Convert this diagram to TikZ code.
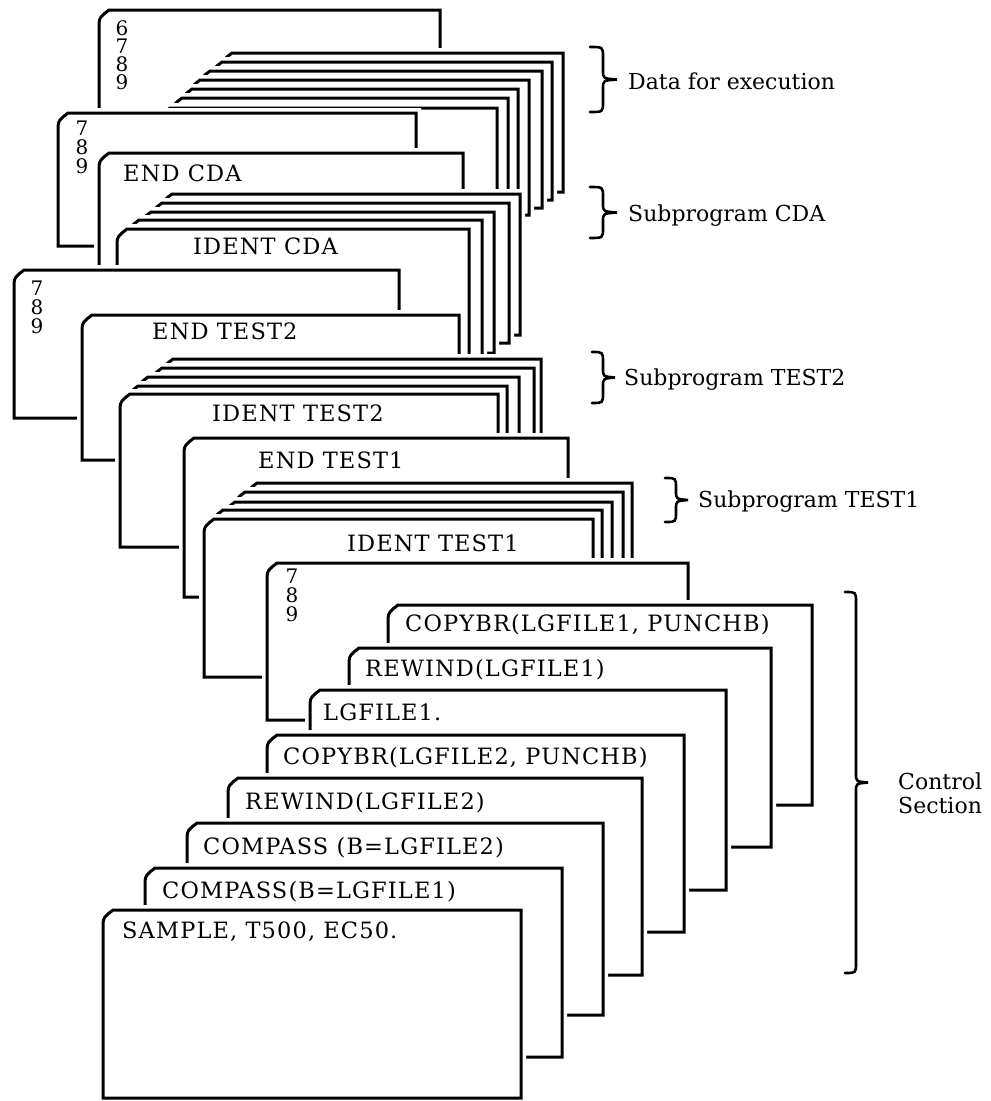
\documentclass[tikz,border=0pt]{standalone}
\usepackage{fontspec}
\newfontfamily\cardfont{DejaVu Serif}[LetterSpace=5]
\newfontfamily\labelfont{DejaVu Serif}
\newcommand\deckcard[4]{% xl, yt, xr, yb
  \path[card] (#1,#2+16) -- (#1,#2+13) .. controls (#1+1,#2+7) .. (#1+10,#2)
    -- (#3,#2) -- (#3,#4) -- (#1,#4) -- cycle;}
\newcommand\curly[6]{% name, x0 curl end, x1 stem, x2 tip, ytop, ybottom
  \pgfmathsetmacro\ymid{(#5+#6)/2}
  \draw[bracestyle] (#2,#5) .. controls (#3,#5) .. (#3,#5+10) -- (#3,\ymid-9)
    .. controls (#3,\ymid-1) .. (#4,\ymid) .. controls (#3,\ymid+1) .. (#3,\ymid+9)
    -- (#3,#6-10) .. controls (#3,#6) .. (#2,#6);
  \coordinate (#1) at (#4,\ymid);}
\newcommand\digitstack[5]{% name, x, first baseline, spacing, digits
  \foreach \dg [count=\k from 0] in {#5} {\node[digit] (#1-\k) at (#2,#3+#4*\k) {\dg};}}
\begin{document}
\begin{tikzpicture}[x=1pt,y=-1pt,
  card/.style={draw=black, line width=3pt, line join=miter,
    preaction={fill=white, draw=white, line width=10pt}},
  cardtext/.style={font=\cardfont\fontsize{22.5}{18}\selectfont, inner sep=0pt, anchor=base west},
  digit/.style={font=\labelfont\fontsize{20}{20}\selectfont, inner sep=0pt, anchor=base},
  labeltext/.style={font=\labelfont\fontsize{22}{24}\selectfont, inner sep=0pt, anchor=base west},
  bracestyle/.style={draw=black, line width=2.6pt, line cap=round}]
\useasboundingbox (0,0) rectangle (991,1101);

% ---- 6789 card
\deckcard{99}{10}{440}{150}
\digitstack{dA}{122}{35}{18.3}{6,7,8,9}

% ---- data for execution
\deckcard{222}{53}{563}{192}
\deckcard{212}{62}{552}{200}
\deckcard{200}{71}{542}{208}
\deckcard{190}{80}{529}{215}
\deckcard{182}{89}{518}{240}
\deckcard{172}{98}{508}{240}
\deckcard{160}{108}{497}{240}

% ---- 789 card
\deckcard{58}{113}{416}{246}
\digitstack{dB}{82}{135}{19}{7,8,9}

% ---- END CDA
\deckcard{99}{153}{463}{330}
\node[cardtext] (endcda) at (123,181) {END CDA};

% ---- subprogram CDA
\deckcard{162}{194}{520}{335}
\deckcard{152}{203}{509}{343}
\deckcard{141}{212}{494}{353}
\deckcard{129}{220}{482}{370}
\deckcard{117}{229}{469}{370}
\node[cardtext] (identcda) at (193,254) {IDENT CDA};

% ---- 789 card
\deckcard{14}{270}{399}{418}
\digitstack{dC}{37}{295}{19}{7,8,9}

% ---- END TEST2
\deckcard{82}{315}{459}{460}
\node[cardtext] (endtesttwo) at (152,339) {END TEST2};

% ---- subprogram TEST2
\deckcard{163}{359}{541}{480}
\deckcard{152}{368}{534}{480}
\deckcard{138}{377}{519}{480}
\deckcard{128}{386}{507}{480}
\deckcard{120}{394}{498}{547}
\node[cardtext] (identtesttwo) at (212,421) {IDENT TEST2};

% ---- END TEST1
\deckcard{184}{438}{568}{597}
\node[cardtext] (endtestone) at (258,468) {END TEST1};

% ---- subprogram TEST1
\deckcard{247}{483}{632}{600}
\deckcard{235}{492}{623}{600}
\deckcard{225}{502}{612}{600}
\deckcard{213}{510}{602}{600}
\deckcard{204}{519}{593}{677}
\node[cardtext] (identtestone) at (347,551) {IDENT TEST1};

% ---- 789 card
\deckcard{267}{563}{688}{720}
\digitstack{dD}{292}{583}{19}{7,8,9}

% ---- control section
\deckcard{388}{605}{812}{805}
\node[cardtext] (copyone) at (405,631) {COPYBR(LGFILE1, PUNCHB)};
\deckcard{349}{648}{771}{847}
\node[cardtext] (rewone) at (365,676) {REWIND(LGFILE1)};
\deckcard{310}{690}{726}{890}
\node[cardtext] (lgfile) at (323,720) {LGFILE1.};
\deckcard{267}{735}{684}{932}
\node[cardtext] (copytwo) at (283,764) {COPYBR(LGFILE2, PUNCHB)};
\deckcard{228}{778}{642}{975}
\node[cardtext] (rewtwo) at (245,809) {REWIND(LGFILE2)};
\deckcard{187}{823}{603}{1015}
\node[cardtext] (comptwo) at (203,854) {COMPASS (B=LGFILE2)};
\deckcard{145}{868}{562}{1057}
\node[cardtext] (compone) at (162,898) {COMPASS(B=LGFILE1)};
\deckcard{103}{910}{521}{1098}
\node[cardtext] (sample) at (122,938) {SAMPLE, T500, EC50.};

% ---- braces and labels
\curly{bData}{590}{603}{617}{47}{112}
\node[labeltext] (lData) at (628,89) {Data for execution};
\curly{bCDA}{590}{603}{617}{187}{238}
\node[labeltext] (lCDA) at (628,221) {Subprogram CDA};
\curly{bTtwo}{592}{603}{615}{352}{403}
\node[labeltext] (lTtwo) at (624,385) {Subprogram TEST2};
\curly{bTone}{665}{676}{688}{478}{522}
\node[labeltext] (lTone) at (698,507) {Subprogram TEST1};
\curly{bCtrl}{845}{856}{868}{592}{973}
\node[labeltext] (lCtrlA) at (898,789) {Control};
\node[labeltext] (lCtrlB) at (898,813) {Section};
\end{tikzpicture}
\end{document}
